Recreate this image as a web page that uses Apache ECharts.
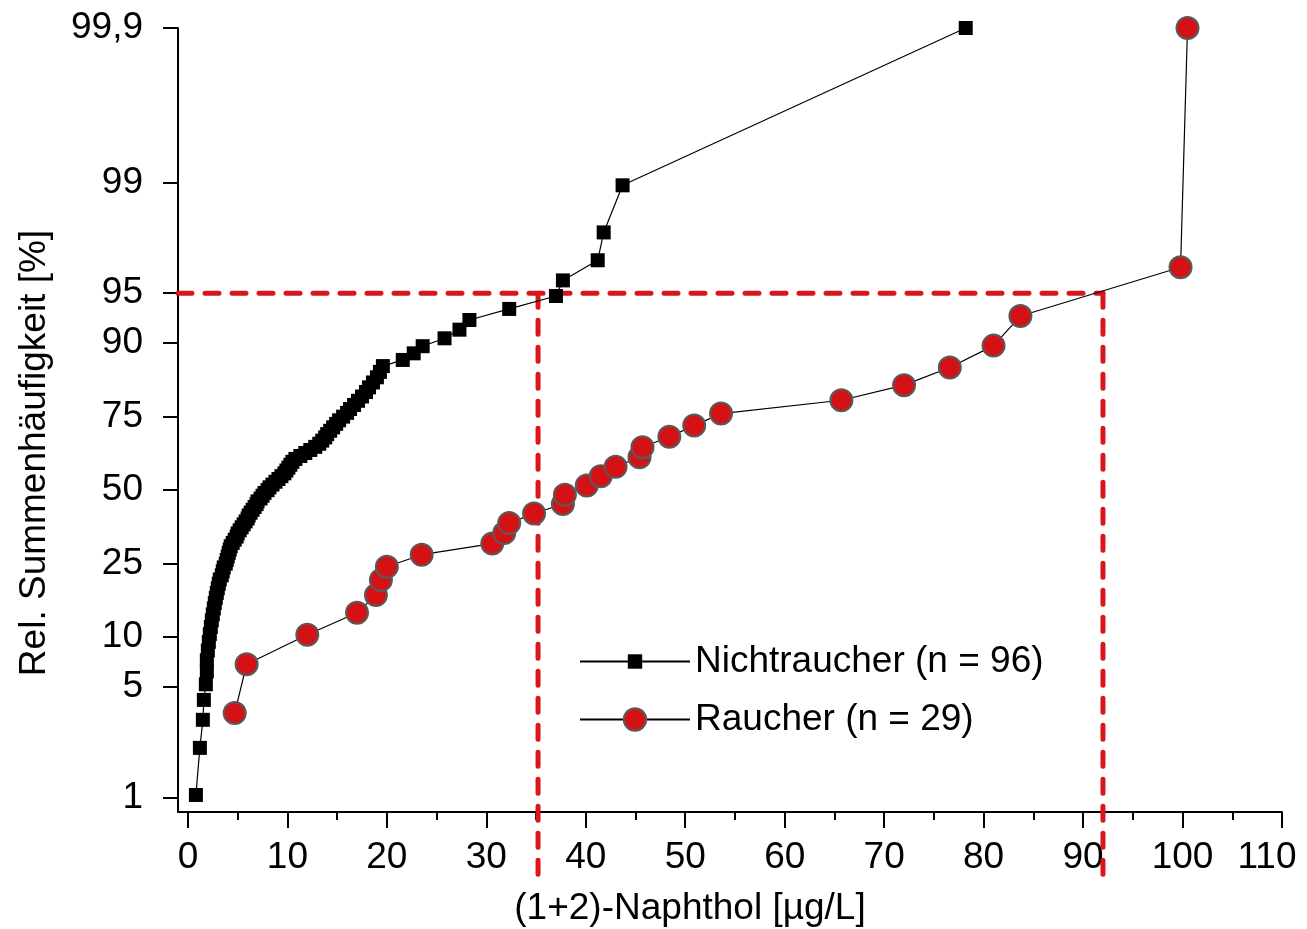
<!DOCTYPE html>
<html>
<head>
<meta charset="utf-8">
<script src="https://cdn.jsdelivr.net/npm/echarts@6/dist/echarts.min.js"></script>
<style>
html, body { margin: 0; padding: 0; background: #fff; }
#chart { width: 1307px; height: 929px; }
</style>
</head>
<body>
<div id="chart"></div>
<script>
// (1+2)-Naphthol [µg/L], sortiert
const nichtraucherX = [
  0.8, 1.2, 1.5, 1.6, 1.8, 1.9, 1.9, 2.0, 2.1, 2.2, 2.3, 2.4, 2.5, 2.6, 2.7, 2.8,
  2.9, 3.0, 3.1, 3.2, 3.4, 3.5, 3.6, 3.8, 3.9, 4.0, 4.1, 4.2, 4.3, 4.5, 4.7, 4.9,
  5.0, 5.2, 5.4, 5.6, 5.8, 6.0, 6.1, 6.3, 6.5, 6.7, 6.9, 7.0, 7.3, 7.5, 7.7, 8.0,
  8.2, 8.5, 8.8, 9.1, 9.4, 9.7, 9.9, 10.1, 10.3, 10.5, 10.8, 11.3, 11.8, 12.3, 12.8, 13.2,
  13.5, 13.8, 14.0, 14.3, 14.6, 14.9, 15.2, 15.6, 16.0, 16.3, 16.7, 17.1, 17.5, 17.9, 18.2, 18.6,
  19.0, 19.3, 19.6, 21.6, 22.7, 23.6, 25.8, 27.3, 28.3, 32.3, 37.0, 37.7, 41.2, 41.8, 43.7, 78.2
]
// rel. Summenhäufigkeit [%]
const nichtraucherPct = [
  1.04, 2.08, 3.13, 4.17, 5.21, 6.25, 7.29, 8.33, 9.38, 10.42, 11.46, 12.5, 13.54, 14.58, 15.63, 16.67,
  17.71, 18.75, 19.79, 20.83, 21.88, 22.92, 23.96, 25, 26.04, 27.08, 28.13, 29.17, 30.21, 31.25, 32.29, 33.33,
  34.38, 35.42, 36.46, 37.5, 38.54, 39.58, 40.63, 41.67, 42.71, 43.75, 44.79, 45.83, 46.88, 47.92, 48.96, 50,
  51.04, 52.08, 53.13, 54.17, 55.21, 56.25, 57.29, 58.33, 59.38, 60.42, 61.46, 62.5, 63.54, 64.58, 65.63, 66.67,
  67.71, 68.75, 69.79, 70.83, 71.88, 72.92, 73.96, 75, 76.04, 77.08, 78.13, 79.17, 80.21, 81.25, 82.29, 83.33,
  84.38, 85.42, 86.46, 87.5, 88.54, 89.58, 90.63, 91.67, 92.71, 93.75, 94.79, 95.83, 96.88, 97.92, 98.96, 99.9
]
const raucherX = [
  4.7, 5.9, 12.0, 17.0, 18.9, 19.4, 20.0, 23.5, 30.6, 31.8, 32.3, 34.8, 37.7, 37.9, 40.1,
  41.5, 43.0, 45.4, 45.7, 48.4, 50.9, 53.6, 65.7, 72.0, 76.6, 81.0, 83.7, 99.8, 100.5
]
const raucherPct = [
  3.45, 6.9, 10.34, 13.79, 17.24, 20.69, 24.14, 27.59, 31.03, 34.48, 37.93, 41.38, 44.83, 48.28, 51.72,
  55.17, 58.62, 62.07, 65.52, 68.97, 72.41, 75.86, 79.31, 82.76, 86.21, 89.66, 93.1, 96.55, 99.9
]
const yTickPercents = [1, 5, 10, 25, 50, 75, 90, 95, 99, 99.9]
const yTickLabels = ['1', '5', '10', '25', '50', '75', '90', '95', '99', '99,9']
const xTickValues = [0, 10, 20, 30, 40, 50, 60, 70, 80, 90, 100, 110]
const xMinorTicks = [5, 15, 25, 35, 45, 55, 65, 75, 85, 95, 105]
// 95. Perzentil
const refPercent = 95
const refX = [35.2, 92.0]

// Wahrscheinlichkeitsachse (Logit)
function logit (p) {
  return Math.log(p / (100 - p))
}
const yTickValues = yTickPercents.map(logit)
const xMin = -1
const xMax = 110
const yMin = -4.81
const yMax = logit(99.9)
const dropBottom = -5.8

const font = 'Liberation Sans, Arial, sans-serif'
const refRed = '#d9161c'

function pairs (xs, ps) {
  return xs.map((x, i) => [x, logit(ps[i])])
}

const refLine = {
  type: 'line',
  symbol: 'none',
  silent: true,
  clip: false,
  z: 1,
  lineStyle: { color: refRed, width: 5, type: [14, 13], cap: 'round' }
}

const option = {
  animation: false,
  textStyle: { fontFamily: font },
  grid: { left: 178, right: 25, top: 28, bottom: 117, outerBoundsMode: 'none', containLabel: false },
  xAxis: [{
    type: 'value',
    min: xMin,
    max: xMax,
    name: '(1+2)-Naphthol [µg/L]',
    nameLocation: 'middle',
    nameGap: 78,
    nameTextStyle: { fontSize: 37, color: '#000', fontFamily: font, padding: [0, 80, 0, 0] },
    axisLine: { onZero: false, lineStyle: { color: '#000', width: 2 } },
    axisTick: { customValues: xTickValues, length: 16, lineStyle: { color: '#000', width: 2 } },
    axisLabel: {
      customValues: xTickValues,
      fontSize: 37,
      color: '#000',
      margin: 27,
      fontFamily: font,
      // letzte Beschriftung etwas nach links, wie im Original
      formatter: (v) => v === xMax ? '{last|' + v + '}' : String(v),
      rich: {
        last: { fontSize: 37, color: '#000', fontFamily: font, padding: [0, 30, 0, 0] }
      }
    },
    splitLine: { show: false }
  }, {
    // kleine Striche
    type: 'value',
    min: xMin,
    max: xMax,
    position: 'bottom',
    offset: 0,
    axisLine: { show: false, onZero: false },
    axisTick: { customValues: xMinorTicks, length: 8, lineStyle: { color: '#000', width: 2 } },
    axisLabel: { show: false },
    splitLine: { show: false }
  }],
  yAxis: {
    type: 'value',
    min: yMin,
    max: yMax,
    name: 'Rel. Summenhäufigkeit [%]',
    nameLocation: 'middle',
    nameGap: 125,
    nameTextStyle: { fontSize: 37, color: '#000', fontFamily: font, padding: [0, 66, 0, 0] },
    axisLine: { show: true, onZero: false, lineStyle: { color: '#000', width: 2 } },
    axisTick: { customValues: yTickValues, length: 15, lineStyle: { color: '#000', width: 2 } },
    axisLabel: {
      customValues: yTickValues,
      fontSize: 37,
      color: '#000',
      margin: 35,
      fontFamily: font,
      formatter: (v) => {
        const i = yTickValues.findIndex(t => Math.abs(t - v) < 1e-6)
        return i >= 0 ? yTickLabels[i] : ''
      }
    },
    splitLine: { show: false }
  },
  legend: [{
    data: ['Nichtraucher (n = 96)'],
    orient: 'vertical',
    left: 579,
    top: 643,
    padding: 0,
    itemWidth: 110,
    itemHeight: 18,
    textStyle: { fontSize: 37, color: '#000', fontFamily: font }
  }, {
    data: ['Raucher (n = 29)'],
    orient: 'vertical',
    left: 579,
    top: 701,
    padding: 0,
    itemWidth: 110,
    itemHeight: 28,
    textStyle: { fontSize: 37, color: '#000', fontFamily: font }
  }],
  series: [
    Object.assign({}, refLine, {
      name: 'ref-h',
      data: [[xMin, logit(refPercent)], [refX[1], logit(refPercent)]]
    }),
    Object.assign({}, refLine, {
      name: 'ref-v1',
      data: [[refX[0], logit(refPercent)], [refX[0], dropBottom]]
    }),
    Object.assign({}, refLine, {
      name: 'ref-v2',
      data: [[refX[1], logit(refPercent)], [refX[1], dropBottom]]
    }),
    {
      name: 'Nichtraucher (n = 96)',
      type: 'line',
      data: pairs(nichtraucherX, nichtraucherPct),
      symbol: 'rect',
      symbolSize: 14,
      z: 3,
      itemStyle: { color: '#000' },
      lineStyle: { color: '#000', width: 1.2 }
    },
    {
      name: 'Raucher (n = 29)',
      type: 'line',
      data: pairs(raucherX, raucherPct),
      symbol: 'circle',
      symbolSize: 22,
      z: 4,
      itemStyle: { color: '#d41216', borderColor: '#5a5a5a', borderWidth: 2 },
      lineStyle: { color: '#000', width: 1.2 }
    }
  ]
}

const myChart = echarts.init(document.getElementById('chart'))
myChart.setOption(option)
</script>
</body>
</html>
